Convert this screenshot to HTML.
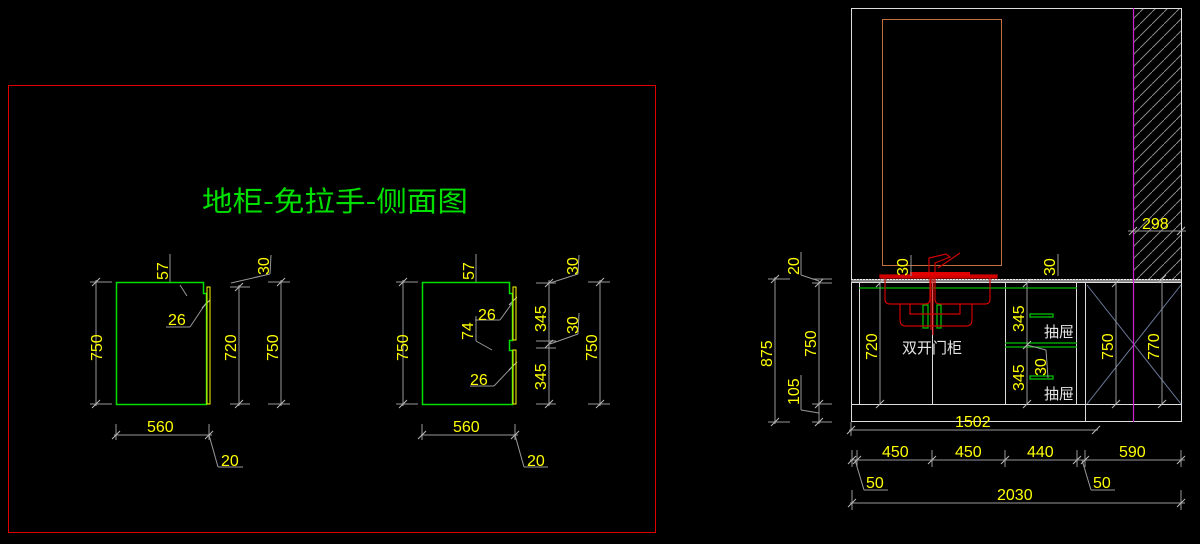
<!DOCTYPE html>
<html><head><meta charset="utf-8"><style>
html,body{margin:0;padding:0;background:#000;}
svg{display:block}
text{font-family:"Liberation Sans","Noto Sans CJK SC",sans-serif;}
.d{fill:#ffff00;font-size:16px;}
.w{fill:#e6e6e6;font-size:15px;}
</style></head><body>
<svg width="1200" height="544" viewBox="0 0 1200 544" xmlns="http://www.w3.org/2000/svg">
<rect width="1200" height="544" fill="#000"/>
<!-- red frame -->
<rect x="8.5" y="85.5" width="647" height="447" fill="none" stroke="#e00000" stroke-width="1"/>
<text x="202" y="211" fill="#00e000" font-size="28" textLength="266" lengthAdjust="spacingAndGlyphs" style="font-family:'Noto Sans CJK SC',sans-serif">地柜-免拉手-侧面图</text>

<!-- cabinet 1 -->
<g stroke="#999" stroke-width="1" fill="none">
 <line x1="96" y1="280" x2="96" y2="406"/><line x1="90" y1="282" x2="112" y2="282"/><line x1="90" y1="404" x2="112" y2="404"/>
 <line x1="239" y1="285" x2="239" y2="406"/><line x1="230" y1="287" x2="250" y2="287"/><line x1="230" y1="404" x2="250" y2="404"/>
 <line x1="281" y1="280" x2="281" y2="406"/><line x1="268" y1="282" x2="290" y2="282"/><line x1="268" y1="404" x2="290" y2="404"/>
 <line x1="231" y1="283" x2="270" y2="274"/><line x1="270" y1="274" x2="271" y2="255"/>
 <line x1="170" y1="283" x2="170" y2="254"/>
 <line x1="180" y1="285" x2="187" y2="296"/>
 <line x1="166" y1="327" x2="190" y2="327"/><line x1="190" y1="327" x2="206" y2="303"/>
 <line x1="114" y1="435" x2="212" y2="435"/><line x1="116" y1="424" x2="116" y2="440"/><line x1="209" y1="424" x2="209" y2="440"/>
 <line x1="209" y1="435" x2="218" y2="467"/><line x1="218" y1="467" x2="243" y2="467"/>
 <g stroke="#bbb"><line x1="92" y1="286" x2="100" y2="278"/><line x1="92" y1="408" x2="100" y2="400"/><line x1="235" y1="291" x2="243" y2="283"/><line x1="235" y1="408" x2="243" y2="400"/><line x1="277" y1="286" x2="285" y2="278"/><line x1="277" y1="408" x2="285" y2="400"/><line x1="112" y1="439" x2="120" y2="431"/><line x1="205" y1="439" x2="213" y2="431"/><line x1="202" y1="308" x2="210" y2="300"/></g>
</g>
<path d="M116.5 404.5 V282.5 H203.5 V293.5 H206.5 V404.5 Z" fill="none" stroke="#00e000" stroke-width="1.5"/>
<rect x="207" y="287" width="3" height="117" fill="none" stroke="#ffff00" stroke-width="1"/>
<text class="d" transform="translate(102,361) rotate(-90)">750</text>
<text class="d" transform="translate(236,361) rotate(-90)">720</text>
<text class="d" transform="translate(278,361) rotate(-90)">750</text>
<text class="d" transform="translate(269,275) rotate(-90)">30</text>
<text class="d" transform="translate(168,280) rotate(-90)">57</text>
<text class="d" x="168" y="325">26</text>
<text class="d" x="147" y="432">560</text>
<text class="d" x="221" y="466">20</text>

<!-- cabinet 2 -->
<g stroke="#999" stroke-width="1" fill="none">
 <line x1="403" y1="280" x2="403" y2="406"/><line x1="396" y1="282" x2="418" y2="282"/><line x1="396" y1="404" x2="418" y2="404"/>
 <line x1="549" y1="280" x2="549" y2="406"/><line x1="536" y1="283" x2="556" y2="283"/><line x1="536" y1="341" x2="556" y2="341"/><line x1="536" y1="348" x2="556" y2="348"/><line x1="536" y1="404" x2="556" y2="404"/>
 <line x1="600" y1="280" x2="600" y2="406"/><line x1="588" y1="282" x2="610" y2="282"/><line x1="588" y1="404" x2="610" y2="404"/>
 <line x1="550" y1="283" x2="578" y2="274"/><line x1="578" y1="274" x2="579" y2="255"/>
 <line x1="550" y1="344" x2="578" y2="334"/><line x1="578" y1="334" x2="579" y2="313"/>
 <line x1="476" y1="283" x2="476" y2="254"/>
 <line x1="475" y1="320" x2="500" y2="320"/><line x1="500" y1="320" x2="513" y2="302"/>
 <line x1="476" y1="316" x2="476" y2="341"/><line x1="476" y1="341" x2="492" y2="350"/>
 <line x1="470" y1="386" x2="494" y2="386"/><line x1="494" y1="386" x2="513" y2="366"/>
 <line x1="421" y1="435" x2="518" y2="435"/><line x1="422" y1="424" x2="422" y2="440"/><line x1="515" y1="424" x2="515" y2="440"/>
 <line x1="515" y1="435" x2="524" y2="467"/><line x1="524" y1="467" x2="548" y2="467"/>
 <g stroke="#bbb"><line x1="399" y1="286" x2="407" y2="278"/><line x1="399" y1="408" x2="407" y2="400"/><line x1="545" y1="287" x2="553" y2="279"/><line x1="545" y1="348" x2="553" y2="340"/><line x1="545" y1="408" x2="553" y2="400"/><line x1="596" y1="286" x2="604" y2="278"/><line x1="596" y1="408" x2="604" y2="400"/><line x1="418" y1="439" x2="426" y2="431"/><line x1="511" y1="439" x2="519" y2="431"/><line x1="509" y1="305" x2="517" y2="297"/><line x1="509" y1="370" x2="517" y2="362"/></g>
</g>
<path d="M422.5 404.5 V282.5 H509.5 V293.5 H512.5 V340.5 H509.5 V350.5 H512.5 V404.5 Z" fill="none" stroke="#00e000" stroke-width="1.5"/>
<rect x="513" y="287" width="3" height="53" fill="none" stroke="#ffff00" stroke-width="1"/>
<rect x="513" y="350" width="3" height="54" fill="none" stroke="#ffff00" stroke-width="1"/>
<text class="d" transform="translate(408,361) rotate(-90)">750</text>
<text class="d" transform="translate(546,332) rotate(-90)">345</text>
<text class="d" transform="translate(546,390) rotate(-90)">345</text>
<text class="d" transform="translate(597,361) rotate(-90)">750</text>
<text class="d" transform="translate(578,275) rotate(-90)">30</text>
<text class="d" transform="translate(578,334) rotate(-90)">30</text>
<text class="d" transform="translate(474,280) rotate(-90)">57</text>
<text class="d" transform="translate(473,340) rotate(-90)">74</text>
<text class="d" x="478" y="320">26</text>
<text class="d" x="470" y="385">26</text>
<text class="d" x="453" y="432">560</text>
<text class="d" x="527" y="466">20</text>

<!-- right elevation -->
<defs><pattern id="h" width="12" height="12" patternUnits="userSpaceOnUse"><line x1="0" y1="12" x2="12" y2="0" stroke="#888" stroke-width="1"/></pattern></defs>
<rect x="1133" y="8" width="48" height="271" fill="url(#h)"/>
<rect x="851.5" y="8.5" width="330" height="413" fill="none" stroke="#ddd" stroke-width="1"/>
<rect x="882.5" y="19.5" width="119" height="246" fill="none" stroke="#c0703a" stroke-width="1"/>
<rect x="851" y="279" width="330" height="4" fill="#888"/>
<line x1="851" y1="279.5" x2="1181" y2="279.5" stroke="#eee" stroke-dasharray="2 1"/>
<line x1="851" y1="282.5" x2="1181" y2="282.5" stroke="#ddd"/>
<g stroke="#ddd" stroke-width="1">
 <line x1="851" y1="404.5" x2="1181" y2="404.5"/>
 <line x1="859.5" y1="283" x2="859.5" y2="404"/>
 <line x1="932.5" y1="283" x2="932.5" y2="404"/>
 <line x1="1005.5" y1="283" x2="1005.5" y2="404"/>
 <line x1="1076.5" y1="283" x2="1076.5" y2="404"/>
 <line x1="1085.5" y1="283" x2="1085.5" y2="422"/>
</g>
<g stroke="#6a7a9a" stroke-width="1"><line x1="1087" y1="285" x2="1181" y2="404"/><line x1="1087" y1="404" x2="1181" y2="285"/></g>
<line x1="1133.5" y1="8" x2="1133.5" y2="422" stroke="#d020d0" stroke-width="1.2"/>
<g stroke="#00c000" stroke-width="1.3" fill="none">
 <line x1="859" y1="288" x2="1077" y2="288"/>
 <line x1="1005" y1="343" x2="1077" y2="343"/><line x1="1005" y1="347" x2="1077" y2="347"/>
 <rect x="1030" y="314" width="23" height="3"/><rect x="1030" y="376" width="23" height="3"/>
 <rect x="923" y="305" width="5" height="23"/><rect x="937" y="305" width="4" height="23"/>
</g>
<g stroke="#d00000" stroke-width="1.2" fill="none">
 <rect x="880" y="275" width="117" height="3" fill="#d00000"/>
 <path d="M885 278 V299 Q885 304 890 304 H925 Q930 304 930 299 V278"/>
 <path d="M935 278 V299 Q935 304 940 304 H985 Q990 304 990 299 V278"/>
 <path d="M900 304 V320 Q900 326 906 326 H966 Q972 326 972 320 V304"/>
 <path d="M910 304 V314 H960 V304"/>
 <line x1="931" y1="278" x2="931" y2="330"/><line x1="933" y1="278" x2="933" y2="335"/>
 <path d="M929 275 V258 L946 254 L950 257 L935 263 V275"/>
 <line x1="938" y1="268" x2="960" y2="253"/>
</g>
<rect x="910" y="272" width="60" height="4" fill="#e00000"/>
<!-- right dims -->
<g stroke="#999" stroke-width="1" fill="none">
 <line x1="775" y1="277" x2="775" y2="424"/><line x1="768" y1="279" x2="790" y2="279"/><line x1="768" y1="422" x2="790" y2="422"/>
 <line x1="819" y1="281" x2="819" y2="424"/><line x1="812" y1="279" x2="832" y2="279"/><line x1="812" y1="283" x2="832" y2="283"/><line x1="812" y1="404" x2="832" y2="404"/><line x1="812" y1="422" x2="832" y2="422"/>
 <line x1="801" y1="252" x2="801" y2="275"/><line x1="801" y1="275" x2="819" y2="281"/>
 <line x1="801" y1="375" x2="801" y2="410"/><line x1="801" y1="410" x2="819" y2="413"/>
 <line x1="880" y1="283" x2="880" y2="404"/>
 <line x1="1027" y1="283" x2="1027" y2="404"/>
 <line x1="1116" y1="283" x2="1116" y2="404"/>
 <line x1="1162" y1="279" x2="1162" y2="404"/>
 <line x1="911" y1="255" x2="911" y2="276"/>
 <line x1="1058" y1="254" x2="1058" y2="276"/>
 <line x1="1027" y1="345" x2="1046" y2="350"/><line x1="1046" y1="350" x2="1048" y2="378"/>
 <line x1="1128" y1="231" x2="1186" y2="231"/>
 <line x1="849" y1="430" x2="1098" y2="430"/><line x1="851" y1="422" x2="851" y2="436"/>
 <line x1="850" y1="460" x2="1185" y2="460"/>
 <line x1="852" y1="450" x2="852" y2="467"/><line x1="857" y1="450" x2="857" y2="467"/><line x1="932" y1="450" x2="932" y2="467"/><line x1="1005" y1="450" x2="1005" y2="467"/><line x1="1077" y1="450" x2="1077" y2="467"/><line x1="1085" y1="450" x2="1085" y2="467"/><line x1="1181" y1="450" x2="1181" y2="467"/>
 <line x1="855" y1="460" x2="864" y2="490"/><line x1="864" y1="490" x2="888" y2="490"/>
 <line x1="1082" y1="460" x2="1091" y2="490"/><line x1="1091" y1="490" x2="1115" y2="490"/>
 <line x1="850" y1="503" x2="1185" y2="503"/><line x1="852" y1="490" x2="852" y2="510"/><line x1="1181" y1="490" x2="1181" y2="510"/>
 <g stroke="#bbb"><line x1="771" y1="283" x2="779" y2="275"/><line x1="771" y1="426" x2="779" y2="418"/><line x1="815" y1="287" x2="823" y2="279"/><line x1="815" y1="408" x2="823" y2="400"/><line x1="815" y1="426" x2="823" y2="418"/><line x1="876" y1="287" x2="884" y2="279"/><line x1="876" y1="408" x2="884" y2="400"/><line x1="1023" y1="287" x2="1031" y2="279"/><line x1="1023" y1="349" x2="1031" y2="341"/><line x1="1023" y1="408" x2="1031" y2="400"/><line x1="1112" y1="287" x2="1120" y2="279"/><line x1="1112" y1="408" x2="1120" y2="400"/><line x1="1158" y1="283" x2="1166" y2="275"/><line x1="1158" y1="408" x2="1166" y2="400"/><line x1="847" y1="434" x2="855" y2="426"/><line x1="1092" y1="434" x2="1100" y2="426"/><line x1="848" y1="464" x2="856" y2="456"/><line x1="853" y1="464" x2="861" y2="456"/><line x1="928" y1="464" x2="936" y2="456"/><line x1="1001" y1="464" x2="1009" y2="456"/><line x1="1073" y1="464" x2="1081" y2="456"/><line x1="1081" y1="464" x2="1089" y2="456"/><line x1="1177" y1="464" x2="1185" y2="456"/><line x1="848" y1="507" x2="856" y2="499"/><line x1="1177" y1="507" x2="1185" y2="499"/><line x1="1129" y1="235" x2="1137" y2="227"/><line x1="1177" y1="235" x2="1185" y2="227"/></g>
</g>
<text class="d" transform="translate(772,367) rotate(-90)">875</text>
<text class="d" transform="translate(816,357) rotate(-90)">750</text>
<text class="d" transform="translate(799,275) rotate(-90)">20</text>
<text class="d" transform="translate(799,405) rotate(-90)">105</text>
<text class="d" transform="translate(877,360) rotate(-90)">720</text>
<text class="d" transform="translate(908,276) rotate(-90)">30</text>
<text class="d" transform="translate(1055,276) rotate(-90)">30</text>
<text class="d" transform="translate(1024,332) rotate(-90)">345</text>
<text class="d" transform="translate(1024,391) rotate(-90)">345</text>
<text class="d" transform="translate(1046,376) rotate(-90)">30</text>
<text class="d" transform="translate(1113,360) rotate(-90)">750</text>
<text class="d" transform="translate(1159,360) rotate(-90)">770</text>
<text class="d" x="1142" y="229">298</text>
<text class="d" x="955" y="427">1502</text>
<text class="d" x="882" y="457">450</text>
<text class="d" x="955" y="457">450</text>
<text class="d" x="1027" y="457">440</text>
<text class="d" x="1119" y="457">590</text>
<text class="d" x="866" y="488">50</text>
<text class="d" x="1093" y="488">50</text>
<text class="d" x="997" y="500">2030</text>
<text class="w" x="902" y="353">双开门柜</text>
<text class="w" x="1044" y="337">抽屉</text>
<text class="w" x="1044" y="399">抽屉</text>
</svg>
</body></html>
